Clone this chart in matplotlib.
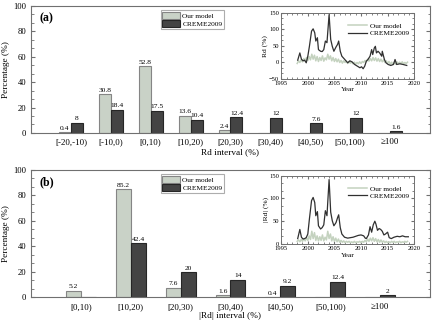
import numpy as np
import matplotlib
matplotlib.use("Agg")
import matplotlib.pyplot as plt
from matplotlib.ticker import AutoMinorLocator, MultipleLocator

plt.rcParams['font.family'] = ['Liberation Serif', 'DejaVu Serif']
plt.rcParams['mathtext.fontset'] = 'stix'

# ---- main panel data ----
cats_a = ["[-20,-10)", "[-10,0)", "[0,10)", "[10,20)", "[20,30)", "[30,40)",
          "[40,50)", "[50,100)", "\u2265100"]
ours_a = [0.4, 30.8, 52.8, 13.6, 2.4, 0, 0, 0, 0]
creme_a = [8, 18.4, 17.5, 10.4, 12.4, 12, 7.6, 12, 1.6]

cats_b = ["[0,10)", "[10,20)", "[20,30)", "[30,40)", "[40,50)", "[50,100)",
          "\u2265100"]
ours_b = [5.2, 85.2, 7.6, 1.6, 0.4, 0, 0]
creme_b = [0, 42.4, 20, 14, 9.2, 12.4, 2]

# ---- inset data ----
cr_a_year = [1998.1, 1998.5, 1998.8, 1999.1, 1999.4, 1999.7, 2000.0, 2000.3,
             2000.7, 2001.0, 2001.3, 2001.5, 2001.8, 2002.0, 2002.4, 2002.7,
             2003.0, 2003.3, 2003.6, 2004.0, 2004.3, 2004.6, 2004.9, 2005.3,
             2005.6, 2005.8, 2006.1, 2006.4, 2006.9, 2007.5, 2007.9, 2008.3,
             2008.8, 2009.3, 2009.8, 2010.1, 2010.4, 2010.7, 2011.0, 2011.3,
             2011.7, 2012.0, 2012.2, 2012.5, 2012.7, 2012.9, 2013.2, 2013.5,
             2013.9, 2014.0, 2014.4, 2014.7, 2015.1, 2015.6, 2016.1, 2016.4,
             2016.7, 2017.3, 2017.9, 2018.6]
cr_a = [7, 29, 10, 5, 7, -1, 19, 49, 95, 102, 90, 65, 75, 39, 34, 33, 39, 65,
        60, 145, 70, 49, 34, 47, 55, 65, 34, 19, 10, -1, 5, 2, -6, -11, -16,
        -13, -19, -11, 4, 9, 19, 39, 24, 44, 49, 29, 34, 29, 19, 34, 9, -1,
        -6, -9, -6, 9, -6, -4, -6, -9]

cr_b_year = [1998.1, 1998.5, 1998.8, 1999.1, 1999.4, 1999.7, 2000.0, 2000.3,
             2000.7, 2001.0, 2001.3, 2001.5, 2001.8, 2002.0, 2002.4, 2002.7,
             2003.0, 2003.3, 2003.6, 2004.0, 2004.3, 2004.6, 2004.9, 2005.3,
             2005.6, 2005.8, 2006.1, 2006.4, 2006.9, 2007.5, 2008.0, 2008.5,
             2009.0, 2009.5, 2010.0, 2010.5, 2010.8, 2011.0, 2011.4, 2011.7,
             2012.0, 2012.3, 2012.6, 2012.8, 2013.1, 2013.4, 2013.7, 2014.0,
             2014.3, 2014.6, 2015.0, 2015.3, 2015.7, 2016.2, 2016.8, 2017.3,
             2017.8, 2018.3, 2018.9]
cr_b = [12, 32, 15, 11, 12, 14, 22, 55, 95, 102, 91, 62, 71, 40, 33, 36, 42,
        73, 62, 141, 70, 51, 40, 47, 58, 64, 36, 22, 15, 13, 14, 15, 17, 19,
        20, 18, 13, 12, 20, 38, 26, 42, 50, 44, 30, 34, 32, 28, 20, 22, 26,
        14, 12, 15, 17, 16, 18, 16, 16]

model_year = np.arange(1998.0, 2019.0, 0.25)
model_a = [-3, 5, 0, 8, 2, 12, 4, 15, 6, 18, 8, 25, 10, 22, 5, 18, 3, 15, 6,
           20, 4, 14, 8, 25, 10, 20, 5, 15, 3, 12, 2, 10, 0, 6, -2, 5, 0, 4,
           -3, 3, -2, 2, -4, 1, -5, 0, -4, 2, -3, 3, 0, 6, 2, 10, 4, 12, 5, 15,
           6, 14, 4, 12, 3, 10, 2, 8, 0, 5, -3, 3, -5, 1, -6, 0, -5, 2, -4, 1,
           -3, 2, -4, 0, -3, 1]
model_b = [6, 9, 5, 10, 6, 12, 7, 14, 8, 18, 10, 28, 12, 25, 8, 18, 7, 16, 8,
           20, 7, 15, 9, 28, 12, 22, 7, 16, 6, 13, 5, 11, 4, 8, 4, 7, 3, 6, 4,
           6, 3, 5, 3, 6, 3, 5, 4, 6, 3, 6, 4, 8, 5, 11, 6, 13, 7, 14, 6, 12,
           5, 10, 4, 9, 4, 7, 3, 6, 3, 5, 3, 6, 4, 6, 3, 5, 4, 6, 3, 5, 4, 6,
           4, 6]

LIGHT = "#c9d2c7"
LIGHT_EDGE = "#858585"
DARK = "#444444"
DARK_EDGE = "#262626"
SPINE = "#707070"


def bar_panel(ax, cats, ours, creme, xlabel, tag):
    x = np.arange(len(cats))
    w = 0.3
    ax.bar(x - w / 2, ours, w, color=LIGHT, edgecolor=LIGHT_EDGE, lw=0.8,
           label="Our model")
    ax.bar(x + w / 2, creme, w, color=DARK, edgecolor=DARK_EDGE, lw=0.8,
           label="CREME2009")
    for xi, v in zip(x - w / 2, ours):
        if v > 0:
            ax.text(xi, v + 1, "%g" % v, ha="center", va="bottom", fontsize=5.4)
    for xi, v in zip(x + w / 2, creme):
        if v > 0:
            ax.text(xi, v + 1, "%g" % v, ha="center", va="bottom", fontsize=5.4)
    ax.set_xlim(-1, len(cats))
    ax.set_ylim(0, 100)
    ax.set_xticks(x)
    ax.set_xticklabels(cats, fontsize=6.4)
    ax.tick_params(axis="x", length=0, pad=4)
    ax.yaxis.set_major_locator(MultipleLocator(20))
    ax.yaxis.set_minor_locator(AutoMinorLocator(3))
    ax.tick_params(axis="y", which="both", direction="in", right=True,
                   labelsize=6.2, color=SPINE)
    ax.tick_params(axis="y", which="major", length=3)
    ax.tick_params(axis="y", which="minor", length=1.8)
    for s in ax.spines.values():
        s.set_color(SPINE)
        s.set_linewidth(0.8)
    ax.set_ylabel("Percentage (%)", fontsize=6.7, labelpad=2)
    ax.set_xlabel(xlabel, fontsize=6.7, labelpad=1)
    ax.text(0.022, 0.9, tag, transform=ax.transAxes, fontsize=8.5,
            fontweight="bold", va="center")
    leg = ax.legend(loc="upper left", bbox_to_anchor=(0.325, 0.97),
                    fontsize=5.3, frameon=True, fancybox=False,
                    handlelength=2.4, handleheight=1.1, borderpad=0.25,
                    labelspacing=0.15, handletextpad=0.3, borderaxespad=0)
    leg.get_frame().set_edgecolor("#999999")
    leg.get_frame().set_linewidth(0.8)


def inset_panel(ax, cyear, cvals, mvals, ylabel, ylim, yticks):
    ax.plot(model_year, mvals, color="#c4d2bf", lw=1.1, label="Our model")
    ax.plot(cyear, cvals, color="#303030", lw=0.9, label="CREME2009")
    ax.set_xlim(1995, 2020)
    ax.set_ylim(*ylim)
    ax.set_xticks([1995, 2000, 2005, 2010, 2015, 2020])
    ax.xaxis.set_minor_locator(MultipleLocator(1))
    ax.set_yticks(yticks)
    ax.yaxis.set_minor_locator(AutoMinorLocator(3))
    ax.tick_params(which="both", direction="in", top=True, right=True,
                   labelsize=4.7, pad=1.5, color=SPINE)
    ax.tick_params(which="major", length=2.2)
    ax.tick_params(which="minor", length=1.2)
    for s in ax.spines.values():
        s.set_color(SPINE)
        s.set_linewidth(0.7)
    ax.set_xlabel("Year", fontsize=5.4, labelpad=1)
    ax.set_ylabel(ylabel, fontsize=5.4, labelpad=0.5)
    ax.legend(loc="upper right", bbox_to_anchor=(1.0, 0.92), frameon=False,
              fontsize=5.3, handlelength=2.6, labelspacing=0.15,
              handletextpad=0.3, borderaxespad=0.2)


fig = plt.figure(figsize=(4.36, 3.25), dpi=100)
ax_a = fig.add_axes([0.0711, 0.591, 0.915, 0.391])
ax_b = fig.add_axes([0.0711, 0.085, 0.915, 0.392])
bar_panel(ax_a, cats_a, ours_a, creme_a, "Rd interval (%)", "(a)")
bar_panel(ax_b, cats_b, ours_b, creme_b, "|Rd| interval (%)", "(b)")

in_a = fig.add_axes([0.645, 0.757, 0.305, 0.203])
in_b = fig.add_axes([0.645, 0.249, 0.305, 0.211])
inset_panel(in_a, cr_a_year, cr_a, model_a, "Rd (%)", (-50, 150),
            [-50, 0, 50, 100, 150])
inset_panel(in_b, cr_b_year, cr_b, model_b, "|Rd| (%)", (0, 150),
            [0, 50, 100, 150])

fig.savefig("out.png", dpi=100)
